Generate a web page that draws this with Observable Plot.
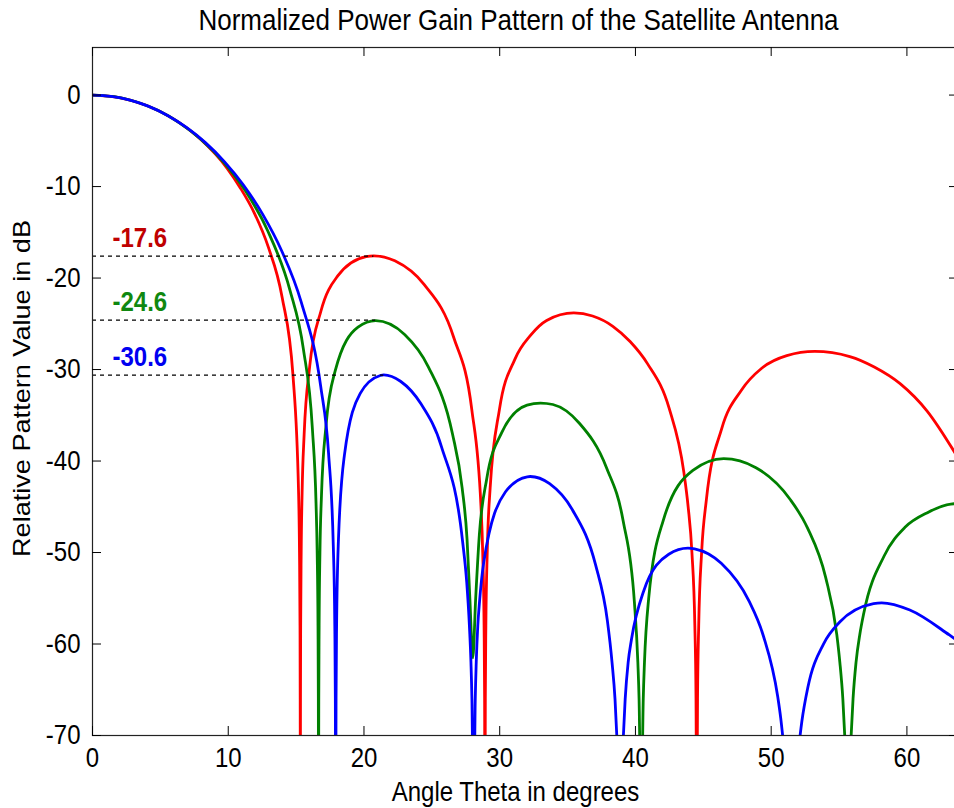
<!DOCTYPE html>
<html><head><meta charset="utf-8">
<script src="https://cdn.jsdelivr.net/npm/d3@7"></script>
<script src="https://cdn.jsdelivr.net/npm/@observablehq/plot@0.6"></script>
<style>
html,body{margin:0;padding:0;background:#fff;}
#chart svg{display:block;}
</style></head><body><div id="chart"></div>
<script>
const titleText = "Normalized Power Gain Pattern of the Satellite Antenna";
const xLabelText = "Angle Theta in degrees";
const yLabelText = "Relative Pattern Value in dB";
const xTickValues = [0, 10, 20, 30, 40, 50, 60];
const yTickValues = [0, -10, -20, -30, -40, -50, -60, -70];

const redTheta = [0, 1.975, 3.952, 5.934, 7.923, 9.921, 10.925, 11.932, 12.943, 13.969, 14.774, 15.182, 15.250, 15.288, 15.302, 15.312, 15.322, 15.336, 15.374, 15.442, 15.592, 16.002, 16.826, 18.067, 20.157, 20.728, 22.274, 24.425, 26.613, 27.946, 28.619, 28.747, 28.848, 28.888, 28.914, 28.940, 28.980, 29.081, 29.296, 29.978, 31.123, 32.283, 33.458, 35.458, 36.841, 38.335, 39.605, 40.896, 42.486, 43.565, 43.883, 44.161, 44.376, 44.462, 44.518, 44.574, 44.660, 44.875, 45.224, 46.355, 47.804, 49.301, 51.149, 53.207, 55.792, 57.595, 59.498, 61.489, 63.628];
const redDb = [0, -0.27, -1.11, -2.57, -4.78, -8.01, -10.23, -12.92, -16.57, -22.10, -30.73, -43.43, -50, -58, -66, -80, -66, -58, -50, -43.5, -37.10, -29.63, -23.63, -19.77, -17.65, -17.57, -18.12, -20.70, -26.50, -34.41, -44.94, -50, -58, -66, -80, -66, -58, -50, -42.93, -34.38, -28.86, -26.24, -24.63, -23.81, -24.15, -25.27, -26.94, -29.38, -34.25, -41.21, -45.0, -50, -58, -66, -80, -66, -58, -50, -44.24, -36.46, -32.26, -29.86, -28.48, -28.02, -28.58, -29.72, -31.54, -34.54, -39.32];

const greenTheta = [0, 1.599, 3.199, 4.802, 6.408, 8.019, 9.637, 11.263, 12.898, 14.544, 15.537, 16.202, 16.468, 16.552, 16.613, 16.638, 16.654, 16.670, 16.695, 16.756, 16.869, 17.203, 17.874, 19.562, 20.857, 22.993, 24.741, 26.514, 27.232, 27.592, 27.80, 28.016, 28.23, 28.498, 29.045, 30.148, 32.014, 33.003, 33.919, 35.869, 37.868, 39.093, 39.921, 40.177, 40.267, 40.421, 40.575, 40.665, 40.970, 42.040, 44.230, 46.505, 48.88, 51.375, 52.673, 54.013, 54.837, 55.059, 55.279, 55.418, 55.655, 55.892, 56.031, 56.251, 56.535, 56.825, 58.32, 59.879, 61.511, 63.234, 63.953];
const greenDb = [0, -0.18, -0.73, -1.67, -3.03, -4.87, -7.29, -10.47, -14.80, -21.31, -27.77, -36.53, -44.6, -50, -58, -66, -80, -66, -58, -50, -43.77, -36.12, -30.17, -25.36, -24.65, -26.16, -29.70, -37.00, -42.93, -48.5, -55.0, -61.5, -55.0, -48.1, -41.93, -36.89, -33.89, -33.66, -33.82, -35.87, -40.73, -46.54, -55.4, -62, -66, -80, -66, -62, -55.1, -46.53, -41.03, -39.74, -40.73, -44.15, -47.30, -52.72, -59.0, -62, -66, -70, -80, -70, -66, -62, -58.9, -56.60, -50.38, -47.22, -45.64, -44.70, -44.64];

const blueTheta = [0, 1.381, 2.764, 4.147, 5.534, 6.923, 8.317, 9.715, 11.120, 12.531, 13.950, 15.378, 16.816, 17.394, 17.742, 17.851, 17.891, 17.917, 17.943, 17.983, 18.120, 18.557, 19.726, 21.200, 21.462, 22.689, 24.197, 25.718, 27.262, 27.573, 27.767, 27.881, 27.953, 28.076, 28.199, 28.271, 28.385, 28.512, 28.825, 30.416, 32.031, 32.244, 33.675, 35.352, 37.064, 37.934, 38.275, 38.494, 38.655, 38.869, 39.083, 39.244, 39.463, 39.706, 40.609, 42.456, 43.867, 44.357, 46.322, 48.361, 49.415, 50.486, 50.703, 50.921, 51.466, 52.030, 52.256, 52.708, 53.863, 55.051, 57.541, 58.143, 60.215, 63.125, 63.742];
const blueDb = [0, -0.14, -0.55, -1.24, -2.23, -3.54, -5.20, -7.27, -9.83, -13.01, -17.07, -22.63, -31.87, -39.21, -49.36, -58, -66, -80, -66, -58, -48.59, -39.38, -32.60, -30.65, -30.58, -31.28, -33.75, -38.48, -48.74, -53.3, -58, -62, -66, -80, -66, -62, -58, -55.4, -51.05, -43.39, -41.72, -41.69, -42.48, -45.32, -51.36, -57.47, -62, -66, -70.9, -80, -70.9, -66, -62, -59.5, -54.20, -50.19, -49.52, -49.60, -51.18, -55.29, -59.07, -65.8, -68.1, -71.1, -80, -71.3, -68.5, -64.70, -59.99, -57.60, -55.59, -55.50, -56.29, -59.01, -59.65];

const sidelobeLevels = [-17.6, -24.6, -30.6];
const sidelobePeakTheta = [20.73, 20.86, 21.46];
const seriesColors = ["#ff0000", "#008000", "#0000ff"];
const labelColors = ["#c00000", "#108810", "#0000f0"];

const W = 954, H = 808, mL = 92, mR = -4, mT = 47, mB = 73;
const plotW = W - mL - mR, plotH = H - mT - mB;
const tickLen = 9;
const toRows = (th, db) => th.map((t, i) => ({theta: t, db: db[i]}));
const series = [toRows(redTheta, redDb), toRows(greenTheta, greenDb), toRows(blueTheta, blueDb)];
const sidelobes = sidelobeLevels.map((v, i) => ({level: v, peak: sidelobePeakTheta[i], color: labelColors[i]}));

const chart = Plot.plot({
  width: W, height: H,
  marginLeft: mL, marginRight: mR, marginTop: mT, marginBottom: mB,
  style: {fontFamily: "'Liberation Sans', Arial, sans-serif", fontSize: "24px", background: "#fff", color: "#000"},
  x: {domain: [0, 63.8]},
  y: {domain: [-70, 5.2]},
  color: {type: "identity"},
  marks: [
    ...series.map((rows, i) => Plot.line(rows, {x: "theta", y: "db", stroke: seriesColors[i], strokeWidth: 2.8, curve: "monotone-x", clip: true})),
    Plot.ruleY(sidelobes, {y: "level", x1: 0, x2: "peak", stroke: "#000", strokeWidth: 1.2, strokeDasharray: "4,4"}),
    Plot.text(sidelobes, {x: 0, y: "level", text: d => String(d.level), fill: "color", dx: 20, dy: -18, textAnchor: "start", fontWeight: "bold", fontSize: 24}),
    Plot.frame({stroke: "#222", strokeWidth: 1.2}),
    Plot.tickY(yTickValues, {y: d => d, insetRight: plotW - tickLen, stroke: "#000"}),
    Plot.tickY(yTickValues, {y: d => d, insetLeft: plotW - tickLen, stroke: "#000"}),
    Plot.tickX(xTickValues, {x: d => d, insetTop: plotH - tickLen, stroke: "#000"}),
    Plot.tickX(xTickValues, {x: d => d, insetBottom: plotH - tickLen, stroke: "#000"}),
    Plot.axisX({ticks: xTickValues, tickSize: 0, tickPadding: 13, tickFormat: d => String(d), label: null, fontSize: 24}),
    Plot.axisY({ticks: yTickValues, tickSize: 0, tickPadding: 12, tickFormat: d => String(d), label: null, fontSize: 24}),
    Plot.text([titleText], {frameAnchor: "top", text: d => d, textAnchor: "middle", lineAnchor: "middle", dx: -7, dy: -27, fontSize: 26}),
    Plot.text([xLabelText], {frameAnchor: "bottom", text: d => d, textAnchor: "middle", lineAnchor: "middle", dx: -10, dy: 57, fontSize: 24}),
    Plot.text([yLabelText], {frameAnchor: "left", text: d => d, textAnchor: "middle", lineAnchor: "middle", dx: -70, dy: -3, rotate: -90, fontSize: 24})
  ]
});
document.getElementById("chart").append(chart);

// MATLAB-style tall glyphs: stretch text along the screen-vertical direction
const S = 1.13;
for (const t of chart.querySelectorAll("text")) {
  const b = t.getBBox();
  const cx = b.x + b.width / 2, cy = b.y + b.height / 2;
  const prev = t.getAttribute("transform") || "";
  const sc = /rotate/.test(prev) ? `scale(${S},1)` : `scale(1,${S})`;
  t.setAttribute("transform", `${prev} translate(${cx},${cy}) ${sc} translate(${-cx},${-cy})`);
}
</script>
</body></html>
